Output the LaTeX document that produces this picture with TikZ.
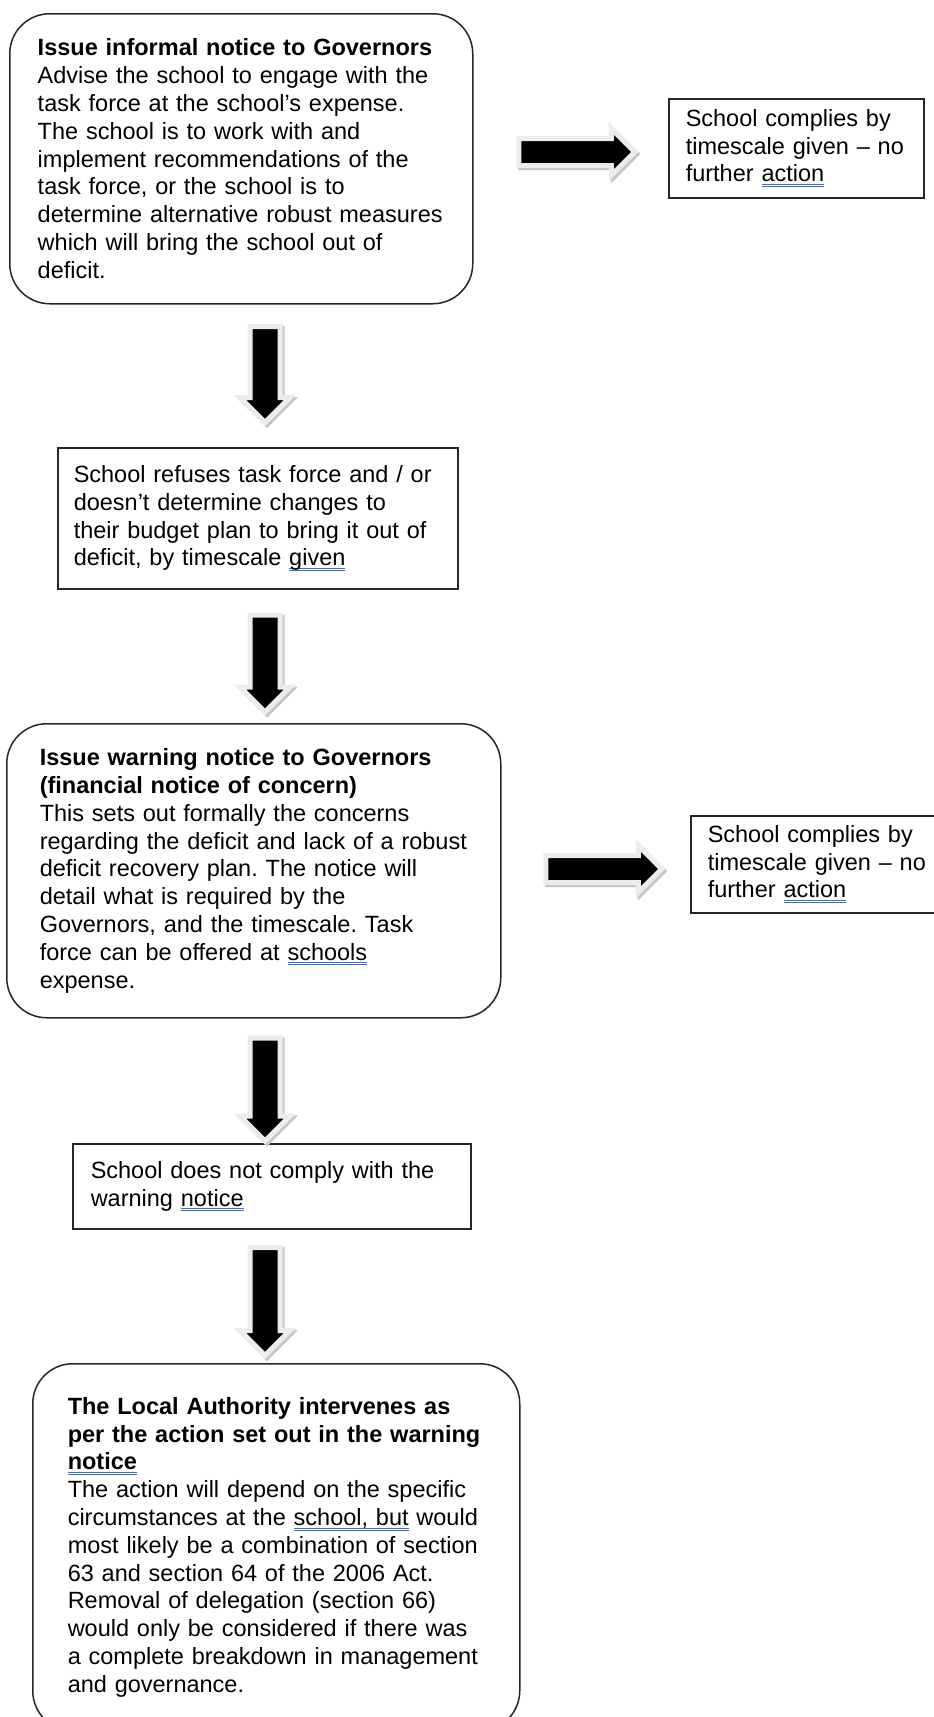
\documentclass[tikz,border=0pt]{standalone}
\usepackage{fontspec}
\setmainfont{Liberation Sans}
\usepackage{xcolor}
\usepackage{tikz}
\usetikzlibrary{shapes.arrows,shadows}

\definecolor{ulblue}{RGB}{60,110,215}
\newsavebox\ulbox
\newcommand\gmark[1]{\leavevmode\sbox\ulbox{#1}\rlap{\color{ulblue}\rule[-3pt]{\wd\ulbox}{1pt}}\rlap{\color{ulblue}\rule[-5.2pt]{\wd\ulbox}{1pt}}#1}
\frenchspacing

\tikzset{
  flowtext/.style={font=\fontsize{23.5pt}{27.8pt}\selectfont, align=left, anchor=north west, inner ysep=4pt, text=black},
  roundbox/.style={flowtext, draw=black!85, line width=1.5pt, rounded corners=40pt},
  plainbox/.style={flowtext, draw=black!85, line width=1.5pt},
  blockarrow/.style={single arrow, fill=black, draw=gray!15, line width=5pt,
    single arrow head extend=10pt, inner xsep=0pt, inner ysep=11pt,
    drop shadow={shadow xshift=2pt, shadow yshift=-2pt, draw=gray!45, line width=5pt, fill=gray!45, opacity=1}},
  downarrow/.style={blockarrow, rotate=-90, inner ysep=12.5pt}
}

\begin{document}
\begin{tikzpicture}[x=1pt,y=-1pt]
\clip (0,0) rectangle (934,1717);
\fill[white] (0,0) rectangle (934,1717);

\node[roundbox, minimum height=290pt, inner xsep=28pt, text width=407pt] (informal) at (9,13)
  {{\bfseries Issue informal notice to Governors}\\
   Advise the school to engage with the\\
   task force at the school’s expense.\\
   The school is to work with and\\
   implement recommendations of the\\
   task force, or the school is to\\
   determine alternative robust measures\\
   which will bring the school out of\\
   deficit.};
\node[plainbox, minimum height=99pt, inner xsep=17pt, text width=221pt] (complyA) at (668,98)
  {School complies by\\ timescale given – no\\ further \gmark{action}};
\node[plainbox, minimum height=141pt, inner xsep=16pt, text width=368pt] (refuse) at (57,447)
  {School refuses task force and / or\\
   doesn’t determine changes to\\
   their budget plan to bring it out of\\
   deficit, by timescale \gmark{given}};
\node[roundbox, minimum height=294pt, inner xsep=33pt, text width=428pt] (warning) at (6,723)
  {{\bfseries Issue warning notice to Governors}\\
   {\bfseries (financial notice of concern)}\\
   This sets out formally the concerns\\
   regarding the deficit and lack of a robust\\
   deficit recovery plan. The notice will\\
   detail what is required by the\\
   Governors, and the timescale. Task\\
   force can be offered at \gmark{schools}\\
   expense.};
\node[plainbox, minimum height=97pt, inner xsep=17pt, text width=221pt] (complyB) at (690,815)
  {School complies by\\ timescale given – no\\ further \gmark{action}};
\node[plainbox, minimum height=85pt, inner xsep=18pt, text width=362pt] (nocomply) at (72,1143)
  {School does not comply with the\\ warning \gmark{notice}};
\node[roundbox, minimum height=367pt, inner xsep=35pt, text width=417pt] (intervene) at (32,1363)
  {{\bfseries The Local Authority intervenes as}\\
   {\bfseries per the action set out in the warning}\\
   {\bfseries \gmark{notice}}\\
   The action will depend on the specific\\
   circumstances at the \gmark{school, but} would\\
   most likely be a combination of section\\
   63 and section 64 of the 2006 Act.\\
   Removal of delegation (section 66)\\
   would only be considered if there was\\
   a complete breakdown in management\\
   and governance.};

\node[blockarrow, minimum height=116pt] (rightA) at (570,152) {};
\node[blockarrow, minimum height=116pt] (rightB) at (597,869) {};
\node[downarrow, minimum height=96pt] (downA) at (265,367) {};
\node[downarrow, minimum height=97pt] (downB) at (265,656) {};
\node[downarrow, minimum height=103pt] (downC) at (265,1082) {};
\node[downarrow, minimum height=108pt] (downD) at (265,1294) {};
\end{tikzpicture}
\end{document}
